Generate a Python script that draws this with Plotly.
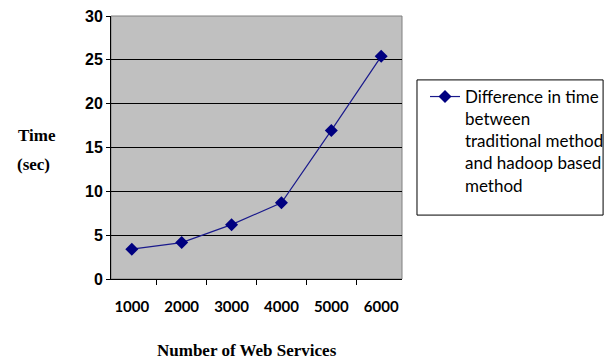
import plotly.graph_objects as go

# Number of web services and the time difference (sec) between the two methods
services = ["1000", "2000", "3000", "4000", "5000", "6000"]
time_diff = [3.4, 4.15, 6.2, 8.7, 16.95, 25.4]
series_name = "Difference in time<br>between<br>traditional method<br>and hadoop based<br>method"

y_ticks = [0, 5, 10, 15, 20, 25, 30]

navy = "#000080"

fig = go.Figure()
fig.add_trace(go.Scatter(
    x=services, y=time_diff, mode="lines+markers", name=series_name,
    line=dict(color="#1a1a8c", width=1.2),
    marker=dict(symbol="diamond", size=10, color=navy),
    showlegend=True,
))

fig.update_layout(
    width=604, height=360,
    margin=dict(l=111, r=202, t=16, b=81, autoexpand=False),
    paper_bgcolor="white",
    plot_bgcolor="#c0c0c0",
    showlegend=True,
    legend=dict(
        xref="container", yref="container",
        x=0.7036, y=0.7806, xanchor="left", yanchor="top",
        borderwidth=0, bgcolor="rgba(0,0,0,0)",
        font=dict(family="Lato", size=17, color="black"),
        valign="top", tracegroupgap=0, itemwidth=30,
    ),
    xaxis=dict(
        type="category", tickson="boundaries",
        showgrid=False, showline=True, linecolor="black", linewidth=1,
        ticks="outside", ticklen=5, tickcolor="black",
        tickfont=dict(family="Lato", size=15, color="black", weight="bold"),
        ticklabelstandoff=14,
    ),
    yaxis=dict(
        range=[0, 30], tickvals=y_ticks,
        showgrid=True, gridcolor="black", gridwidth=1,
        showline=True, linecolor="black", linewidth=1,
        ticks="outside", ticklen=4, tickcolor="black",
        tickfont=dict(family="Liberation Sans", size=16, color="black", weight="bold"),
        zeroline=False,
    ),
    shapes=[
        # plot frame
        dict(type="rect", xref="paper", yref="paper", x0=0, x1=1, y0=0, y1=1,
             line=dict(color="#808080", width=1), layer="below"),
        # legend box
        dict(type="rect", xref="paper", yref="paper",
             x0=1.0515, x1=1.691, y0=0.243, y1=0.757,
             line=dict(color="black", width=1), fillcolor="white", layer="below"),
    ],
    annotations=[
        dict(text="<b>Time</b>", xref="paper", yref="paper",
             x=-0.326, y=0.5475, xanchor="left", yanchor="middle", showarrow=False,
             font=dict(family="Liberation Serif", size=17, color="black")),
        dict(text="<b>(sec)</b>", xref="paper", yref="paper",
             x=-0.33, y=0.4335, xanchor="left", yanchor="middle", showarrow=False,
             font=dict(family="Liberation Serif", size=17, color="black")),
        dict(text="<b>Number of Web Services</b>", xref="paper", yref="paper",
             x=0.467, y=-0.27, xanchor="center", yanchor="middle", showarrow=False,
             font=dict(family="Liberation Serif", size=17, color="black")),
    ],
)

fig.write_html("out.html")
